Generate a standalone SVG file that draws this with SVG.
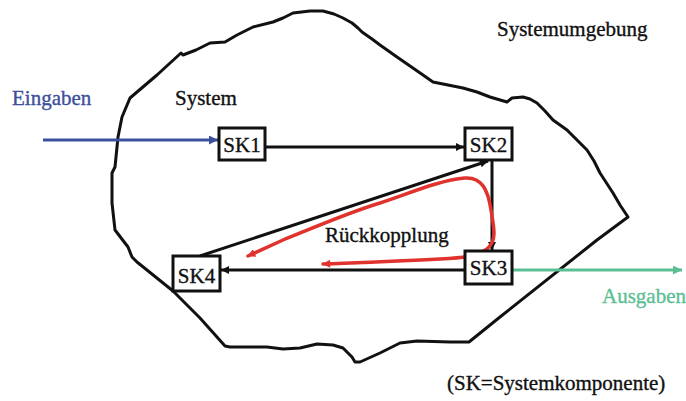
<svg xmlns="http://www.w3.org/2000/svg" width="686" height="401" viewBox="0 0 686 401">
  <style>
    text { font-family: 'Liberation Serif', 'Times New Roman', serif; font-size: 21px; fill: #111; stroke: #111; stroke-width: 0.35; }
    .box { fill: #fff; stroke: #111; stroke-width: 3; }
    .edge { fill: none; stroke: #111; stroke-width: 3; }
    .blob { fill: none; stroke: #111; stroke-width: 3; stroke-linejoin: round; stroke-linecap: round; }
  </style>
  <defs>
    <marker id="arrowBlack" viewBox="0 0 10 10" refX="10" refY="5" markerWidth="10" markerHeight="8" markerUnits="userSpaceOnUse" orient="auto">
      <path d="M0,0 L10,5 L0,10 z" fill="#111"/>
    </marker>
    <marker id="arrowBlue" viewBox="0 0 10 10" refX="10" refY="5" markerWidth="11" markerHeight="9" markerUnits="userSpaceOnUse" orient="auto">
      <path d="M0,0 L10,5 L0,10 z" fill="#3c4f9c"/>
    </marker>
    <marker id="arrowGreen" viewBox="0 0 10 10" refX="10" refY="5" markerWidth="11" markerHeight="9" markerUnits="userSpaceOnUse" orient="auto">
      <path d="M0,0 L10,5 L0,10 z" fill="#5cbf94"/>
    </marker>
    <marker id="arrowRed" viewBox="0 0 10 10" refX="9" refY="5" markerWidth="14" markerHeight="8" markerUnits="userSpaceOnUse" orient="auto-start-reverse">
      <path d="M0,0 L10,5 L0,10 z" fill="#e0332e"/>
    </marker>
  </defs>

  <!-- system boundary -->
  <g id="system-boundary">
    <path class="blob" d="M181,53 L183,55 L196,50 L210,43 L225,42 L237,35 L253,27 L273,22 L283,18 L293,13 L310,11 L323,11 L334,14 L343,18 L352,23 L358,28 L362,32 L372,39 L380,45 L397,57 L410,66 L423,75 L433,82 L448,85 L463,88 L477,92 L490,97 L507,102 L512,98 L523,97 L530,99 L537,103 L545,111 L553,120 L567,130 L577,140 L587,150 L594,161 L600,173 L613,193 L620,205 L628,217 L597,240 L500,317 L469,342 L450,342 L417,341 L400,343 L380,353 L360,362 L355,362 L352,357 L343,348 L333,345 L317,344 L300,348 L283,349 L267,347 L230,347 L225,346 L200,318 L173,291 L137,262 L132,257 L128,247 L115,230 L112,203 L112,173 L115,167 L118,137 L122,117 L130,98 L157,75 Z"/>
  </g>

  <!-- labels -->
  <g id="labels">
    <text x="497" y="36">Systemumgebung</text>
    <text x="175" y="105">System</text>
    <text x="12" y="105" style="fill:#3c4f9c; stroke:#3c4f9c">Eingaben</text>
    <text x="602" y="303" style="fill:#5cbf94; stroke:#5cbf94">Ausgaben</text>
    <text x="325" y="242">Rückkopplung</text>
    <text x="447" y="390">(SK=Systemkomponente)</text>
  </g>

  <!-- connectors -->
  <g id="connectors">
    <line class="edge" x1="265" y1="147" x2="464" y2="147" marker-end="url(#arrowBlack)"/>
    <line class="edge" x1="492" y1="161" x2="492" y2="250" marker-end="url(#arrowBlack)"/>
    <line class="edge" x1="465" y1="270" x2="221" y2="270" marker-end="url(#arrowBlack)"/>
    <line class="edge" x1="200" y1="256" x2="488" y2="161" marker-end="url(#arrowBlack)"/>
    <line x1="43" y1="140" x2="218" y2="140" stroke="#3c4f9c" stroke-width="3" marker-end="url(#arrowBlue)"/>
    <line x1="512" y1="270" x2="682" y2="270" stroke="#5cbf94" stroke-width="3" marker-end="url(#arrowGreen)"/>
    <!-- feedback loop -->
    <path d="M248,256 L283,240 C320,225 350,212 380,203 C410,193 440,180 465,178 C482,177 488,190 491,210 C494,228 497,240 488,248 C478,257 460,258 440,259 C400,261 360,263 323,264" fill="none" stroke="#e0332e" stroke-width="3.5" stroke-linecap="round" marker-start="url(#arrowRed)" marker-end="url(#arrowRed)"/>
  </g>

  <!-- system components -->
  <g id="SK1">
    <rect class="box" x="219" y="128" width="46" height="32"/>
    <text x="242" y="152" text-anchor="middle">SK1</text>
  </g>
  <g id="SK2">
    <rect class="box" x="465" y="128" width="47" height="32"/>
    <text x="488.5" y="152" text-anchor="middle">SK2</text>
  </g>
  <g id="SK3">
    <rect class="box" x="465" y="251" width="47" height="33"/>
    <text x="488.5" y="275" text-anchor="middle">SK3</text>
  </g>
  <g id="SK4">
    <rect class="box" x="173" y="256" width="47" height="35"/>
    <text x="196.5" y="283" text-anchor="middle">SK4</text>
  </g>
</svg>
